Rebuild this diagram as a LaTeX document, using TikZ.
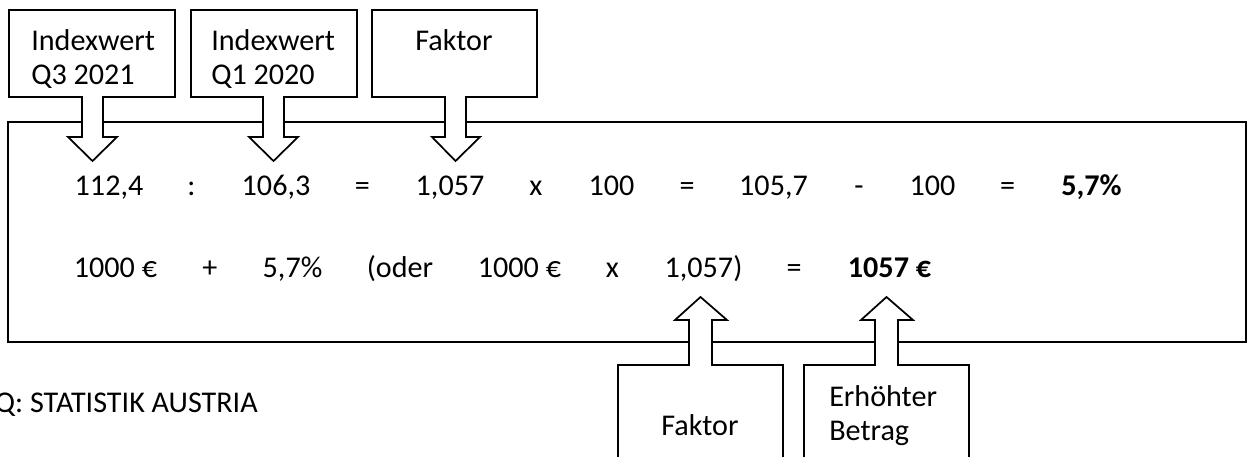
\documentclass[tikz,border=0pt]{standalone}
\usepackage{fontspec}
\setmainfont{Carlito}

\tikzset{
  callout/.style={draw, fill=white, line width=1.3pt, line join=miter},
  eq/.style={anchor=base, inner sep=0pt, font=\fontsize{22.6}{25.5}\selectfont},
  lbl/.style={inner sep=0pt, align=left, font=\fontsize{22.6}{25.5}\selectfont},
}

\begin{document}
\begin{tikzpicture}[x=0.75pt, y=-0.75pt]
\useasboundingbox (0,0) rectangle (1247,457);
\clip (0,0) rectangle (1247,457);

% main frame
\draw[line width=1.3pt] (8,122) rectangle (1246,342);

% callouts on top
\draw[callout] (9,10) -- (175,10) -- (175,97) -- (103,97) -- (103,137) -- (117,137) -- (92.5,161) -- (68,137) -- (82,137) -- (82,97) -- (9,97) -- cycle;
\draw[callout] (191,10) -- (357,10) -- (357,97) -- (284,97) -- (284,137) -- (298,137) -- (273.5,161) -- (249,137) -- (263,137) -- (263,97) -- (191,97) -- cycle;
\draw[callout] (372,10) -- (537,10) -- (537,97) -- (466,97) -- (466,137) -- (480,137) -- (455.5,161) -- (432,137) -- (445,137) -- (445,97) -- (372,97) -- cycle;

% callouts below
\draw[callout] (618,475) -- (618,365) -- (689,365) -- (689,320) -- (675,320) -- (700.5,297) -- (727,320) -- (712,320) -- (712,365) -- (783,365) -- (783,475);
\draw[callout] (804,475) -- (804,365) -- (875,365) -- (875,320) -- (861,320) -- (886.5,297) -- (913,320) -- (898,320) -- (898,365) -- (969,365) -- (969,475);

% callout texts (base = last line)
\node[lbl, anchor=base west] (iq3) at (31,84) {Indexwert\\Q3 2021};
\node[lbl, anchor=base west] (iq1) at (211,84) {Indexwert\\Q1 2020};
\node[lbl, anchor=base] (fak1) at (454,50) {Faktor};
\node[lbl, anchor=base] (fak2) at (700,435) {Faktor};
\node[lbl, anchor=base west] (erh) at (829,440) {Erhöhter\\Betrag};

% first row
\node[eq] (a1) at (109,195) {112,4};
\node[eq] (a2) at (191.5,195) {:};
\node[eq] (a3) at (276,195) {106,3};
\node[eq] (a4) at (362.5,195) {=};
\node[eq] (a5) at (450,195) {1,057};
\node[eq] (a6) at (536,195) {x};
\node[eq] (a7) at (611.5,195) {100};
\node[eq] (a8) at (687,195) {=};
\node[eq] (a9) at (773.5,195) {105,7};
\node[eq] (a10) at (859,195) {-};
\node[eq] (a11) at (932.5,195) {100};
\node[eq] (a12) at (1007.5,195) {=};
\node[eq, font=\fontsize{22.6}{25.5}\selectfont\bfseries] (a13) at (1091.5,195) {5,7\%};

% second row
\node[eq] (b1) at (115.5,277) {1000 €};
\node[eq] (b2) at (210,277) {+};
\node[eq] (b3) at (292.5,277) {5,7\%};
\node[eq] (b4) at (400,277) {(oder};
\node[eq] (b5) at (519.5,277) {1000 €};
\node[eq] (b6) at (612.5,277) {x};
\node[eq] (b7) at (703.5,277) {1,057)};
\node[eq] (b8) at (794,277) {=};
\node[eq, font=\fontsize{22.6}{25.5}\selectfont\bfseries] (b9) at (889.5,277) {1057 €};

\node[eq, anchor=base east] (quelle) at (258,412) {Q: STATISTIK AUSTRIA};

\end{tikzpicture}
\end{document}
